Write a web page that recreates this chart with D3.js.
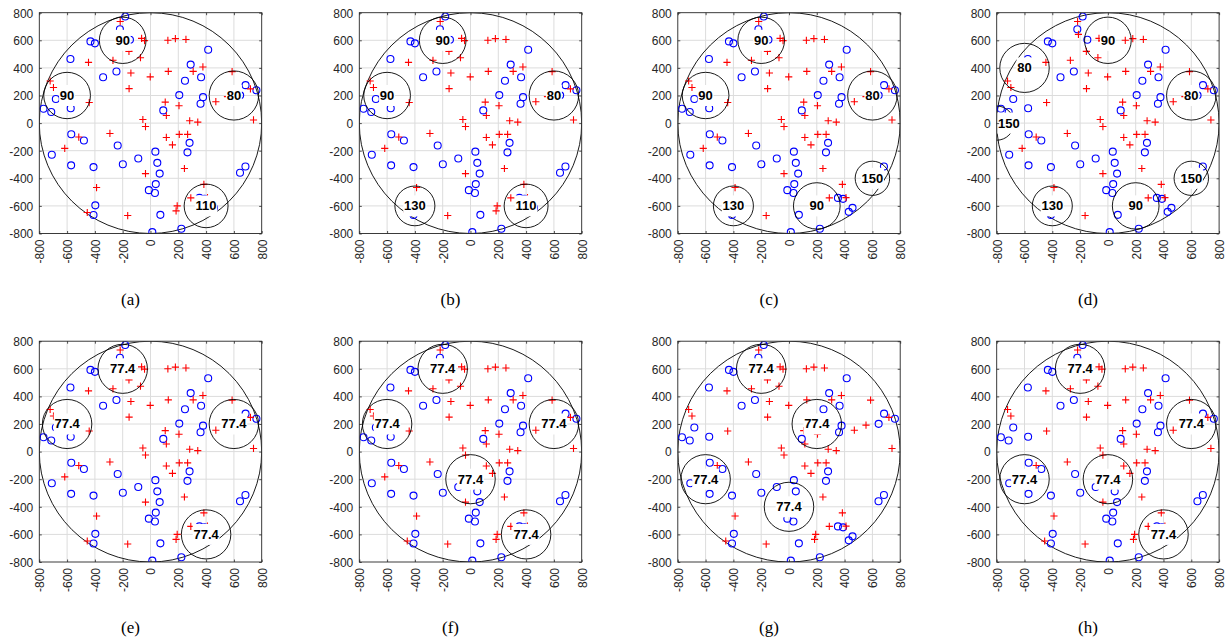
<!DOCTYPE html>
<html>
<head>
<meta charset="utf-8">
<script src="https://cdn.jsdelivr.net/npm/d3@7"></script>
<style>
  body { margin: 0; background: #fff; }
  svg { display: block; }
</style>
</head>
<body>
<svg id="fig" width="1229" height="639"></svg>
<script>
// Node positions shared by every panel
const blueX = [-182, -220, -148, -432, -400, -576, -245, -341, -681, -770, -714, -574, 415, 289, 364, 248, 207, 378, 360, 92, 684, 762, 645,
  -570, -479, -710, -571, -410, -236, -199, -88, 35, 49, 66, 38, -12, 32, 281, 266, 683, 644, 352, 389, 430, 457, 71, 13, 222, -397, -410];
const blueY = [772, 680, 604, 592, 578, 464, 374, 332, 175, 104, 80, 108, 532, 424, 332, 307, 203, 188, 140, 92, 275, 238, 201,
  -81, -126, -229, -306, -319, -162, -298, -257, -207, -288, -366, -442, -486, -506, -143, -212, -315, -360, -542, -549, -643, -614, -665, -790, -766, -596, -666];

const redX = [-218, -212, -64, -43, 125, 179, 255, -155, -72, -270, -446, -141, -2, 128, 307, 377, 587, -154, -722, -698, -441, 106, 114, 205,
  470, 554, 719, 741, -55, -36, 282, 340, 207, 267, 114, 158, -292, -516, -617, -36, 244, 384, -388, 290, 410, 192, 184, -164, -455];
const redY = [736, 643, 614, 598, 600, 612, 606, 520, 474, 455, 440, 363, 335, 375, 375, 407, 373, 250, 305, 258, 149, 152, 55, 126,
  155, 192, 248, 23, 26, -25, 17, 7, -82, -82, -104, -158, -75, -101, -183, -366, -329, -444, -467, -542, -540, -600, -636, -670, -648];

// Coverage zones per panel: centres and labelled values
const panelNames = ['(a)', '(b)', '(c)', '(d)', '(e)', '(f)', '(g)', '(h)'];
const zoneX = [
  [-200, -600, 600, 400],
  [-200, -600, 600, -400, 400],
  [-200, -600, 600, -400, 200, 600],
  [0, -600, -800, 600, -400, 200, 600],
  [-200, -600, 600, 400],
  [-200, -600, 600, 0, 400],
  [-200, 200, -600, 0],
  [-200, 600, -600, 0, 400]
];
const zoneY = [
  [600, 200, 200, -600],
  [600, 200, 200, -600, -600],
  [600, 200, 200, -600, -600, -400],
  [600, 400, 0, 200, -600, -600, -400],
  [600, 200, 200, -600],
  [600, 200, 200, -200, -600],
  [600, 200, -200, -400],
  [600, 200, -200, -200, -600]
];
const zoneVal = [
  [90, 90, 80, 110],
  [90, 90, 80, 130, 110],
  [90, 90, 80, 130, 90, 150],
  [90, 80, 150, 80, 130, 90, 150],
  [77.4, 77.4, 77.4, 77.4],
  [77.4, 77.4, 77.4, 77.4, 77.4],
  [77.4, 77.4, 77.4, 77.4],
  [77.4, 77.4, 77.4, 77.4, 77.4]
];
// zone radius (m) for each labelled value
const zoneRadius = { 77.4: 178, 80: 178, 90: 168, 110: 158, 130: 144, 150: 124 };

const fieldRadius = 800;
const tickValues = [-800, -600, -400, -200, 0, 200, 400, 600, 800];

// ---- layout ----
const colLeft = [39.3, 359.3, 677.8, 996.7];
const rowTop = [12.7, 341.2];
const W = 222.4, H = 220.8;
const axisColor = '#262626';
const tickFont = "'Liberation Sans', Arial, Helvetica, sans-serif";

const svg = d3.select('#fig');

panelNames.forEach((name, i) => {
  const left = colLeft[i % 4], top = rowTop[Math.floor(i / 4)];
  const x = d3.scaleLinear().domain([-800, 800]).range([0, W]);
  const y = d3.scaleLinear().domain([-800, 800]).range([H, 0]);
  const g = svg.append('g').attr('transform', `translate(${left},${top})`);

  const clipId = 'clip' + i;
  g.append('clipPath').attr('id', clipId)
    .append('rect').attr('x', 0).attr('y', 0).attr('width', W).attr('height', H);

  // grid
  const grid = g.append('g');
  grid.selectAll('line.gx').data(tickValues.slice(1, -1)).join('line')
    .attr('x1', d => x(d)).attr('x2', d => x(d)).attr('y1', 0).attr('y2', H)
    .attr('stroke', '#dcdcdc').attr('stroke-width', 1);
  grid.selectAll('line.gy').data(tickValues.slice(1, -1)).join('line')
    .attr('y1', d => y(d)).attr('y2', d => y(d)).attr('x1', 0).attr('x2', W)
    .attr('stroke', '#dcdcdc').attr('stroke-width', 1);

  const plot = g.append('g').attr('clip-path', `url(#${clipId})`);

  // field boundary
  plot.append('ellipse')
    .attr('cx', x(0)).attr('cy', y(0))
    .attr('rx', x(fieldRadius) - x(0)).attr('ry', y(0) - y(fieldRadius))
    .attr('fill', 'none').attr('stroke', '#000').attr('stroke-width', 0.9);

  // blue nodes
  plot.selectAll('circle.node').data(d3.range(blueX.length)).join('circle')
    .attr('cx', k => x(blueX[k])).attr('cy', k => y(blueY[k])).attr('r', 3.5)
    .attr('fill', 'none').attr('stroke', '#0000ff').attr('stroke-width', 1.1);

  // red markers
  const s = 3.6;
  plot.selectAll('path.plus').data(d3.range(redX.length)).join('path')
    .attr('d', k => {
      const px = x(redX[k]), py = y(redY[k]);
      return `M${px - s},${py}H${px + s}M${px},${py - s}V${py + s}`;
    })
    .attr('stroke', '#ff0000').attr('stroke-width', 1.1).attr('fill', 'none');

  // coverage zones
  const zx = zoneX[i], zy = zoneY[i], zv = zoneVal[i];
  plot.selectAll('ellipse.zone').data(d3.range(zx.length)).join('ellipse')
    .attr('cx', k => x(zx[k])).attr('cy', k => y(zy[k]))
    .attr('rx', k => x(zoneRadius[zv[k]]) - x(0))
    .attr('ry', k => y(0) - y(zoneRadius[zv[k]]))
    .attr('fill', 'none').attr('stroke', '#000').attr('stroke-width', 0.9);

  // zone labels on white boxes
  zx.forEach((cx, k) => {
    const lg = g.append('g');
    const rect = lg.append('rect').attr('fill', '#fff');
    const t = lg.append('text')
      .attr('font-family', tickFont).attr('font-size', 13).attr('font-weight', 'bold')
      .attr('fill', '#000').attr('text-anchor', 'middle').attr('dominant-baseline', 'central')
      .text(String(zv[k]));
    const tw = t.node().getComputedTextLength();
    let px = x(cx);
    const boxW = tw + 1.5, boxH = 21;
    if (px - boxW / 2 < 0) px = boxW / 2 + 0.5;
    if (px + boxW / 2 > W) px = W - boxW / 2 - 0.5;
    const py = y(zy[k]);
    t.attr('x', px).attr('y', py);
    rect.attr('x', px - boxW / 2).attr('y', py - boxH / 2).attr('width', boxW).attr('height', boxH);
  });

  // axes box with inward ticks
  const fmt = d => String(d);
  const ax = g.append('g').attr('transform', `translate(0,${H})`)
    .call(d3.axisBottom(x).tickValues(tickValues).tickFormat(fmt).tickSizeInner(-2.5).tickSizeOuter(0).tickPadding(6));
  const ay = g.append('g')
    .call(d3.axisLeft(y).tickValues(tickValues).tickFormat(fmt).tickSizeInner(-2.5).tickSizeOuter(0).tickPadding(6));
  const axT = g.append('g')
    .call(d3.axisTop(x).tickValues(tickValues).tickFormat('').tickSizeInner(-2.5).tickSizeOuter(0));
  const ayR = g.append('g').attr('transform', `translate(${W},0)`)
    .call(d3.axisRight(y).tickValues(tickValues).tickFormat('').tickSizeInner(-2.5).tickSizeOuter(0));
  [ax, ay, axT, ayR].forEach(a => {
    a.select('.domain').remove();
    a.selectAll('line').attr('stroke', axisColor).attr('stroke-width', 0.8);
    a.selectAll('text').attr('font-family', tickFont).attr('font-size', 12).attr('fill', axisColor);
  });
  ax.selectAll('text')
    .attr('transform', 'rotate(-90)')
    .attr('text-anchor', 'end')
    .attr('x', -6).attr('y', 0).attr('dy', '0.36em');
  ay.selectAll('text').attr('dy', '0.36em');

  g.append('rect').attr('x', 0).attr('y', 0).attr('width', W).attr('height', H)
    .attr('fill', 'none').attr('stroke', axisColor).attr('stroke-width', 0.9);

  // caption
  g.append('text')
    .attr('x', W / 2 - 20).attr('y', H + 66)
    .attr('text-anchor', 'middle').attr('dominant-baseline', 'central')
    .attr('font-family', "'Liberation Serif', 'Times New Roman', serif").attr('font-size', 17)
    .attr('fill', '#000')
    .text(name);
});
</script>
</body>
</html>
